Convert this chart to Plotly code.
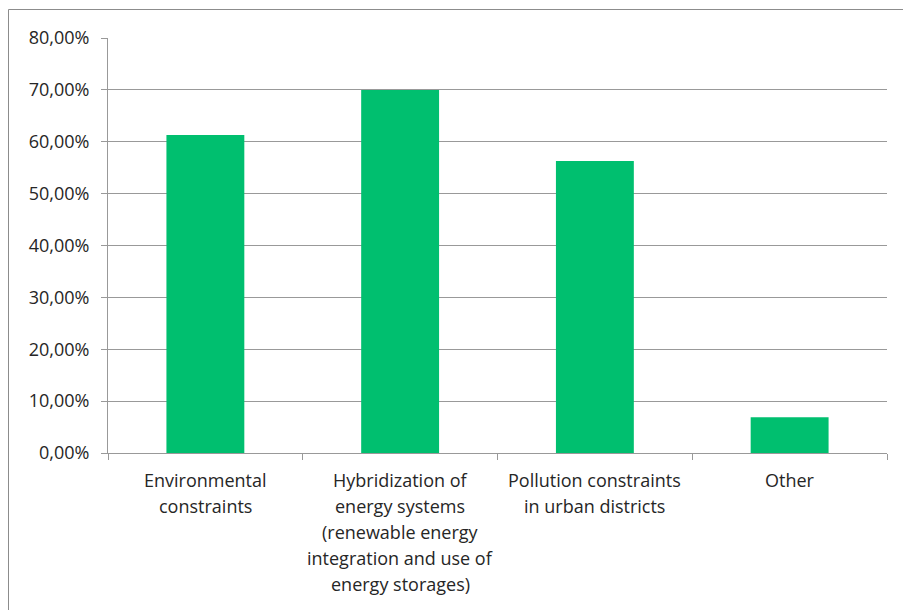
import plotly.graph_objects as go

categories = [
    "Environmental<br>constraints",
    "Hybridization of<br>energy systems<br>(renewable energy<br>integration and use of<br>energy storages)",
    "Pollution constraints<br>in urban districts",
    "Other",
]
shares = [61.3, 70.0, 56.3, 6.9]
y_ticks = [0, 10, 20, 30, 40, 50, 60, 70, 80]
y_tick_labels = ["0,00%", "10,00%", "20,00%", "30,00%", "40,00%",
                 "50,00%", "60,00%", "70,00%", "80,00%"]

font_family = "'Open Sans', sans-serif"
text_color = "#262626"
font_size = 18

fig = go.Figure(
    go.Bar(
        x=list(range(len(categories))),
        y=shares,
        marker=dict(color="#00BF6F", line=dict(width=0)),
        hoverinfo="y",
    )
)

# category labels, one annotation per text line for wider line spacing
line_step = 26
for i, label in enumerate(categories):
    for j, line in enumerate(label.split("<br>")):
        fig.add_annotation(
            x=i, y=0, xref="x", yref="y",
            text=line, showarrow=False,
            yshift=-(27 + j * line_step), yanchor="middle",
            font=dict(family=font_family, size=font_size, color=text_color),
        )

fig.update_layout(
    width=903, height=610,
    margin=dict(l=108, r=16, t=38, b=157),
    paper_bgcolor="white", plot_bgcolor="white",
    bargap=0.6,
    showlegend=False,
    font=dict(family=font_family, size=font_size, color=text_color),
)

fig.update_xaxes(
    range=[-0.5, len(categories) - 0.5],
    tickmode="array",
    tickvals=[-0.5 + k for k in range(len(categories) + 1)],
    showticklabels=False,
    ticks="outside", ticklen=6, tickcolor="#999999", tickwidth=1,
    showline=True, linecolor="#999999", linewidth=1,
    showgrid=False, zeroline=False,
)
fig.update_yaxes(
    range=[0, 80],
    tickmode="array", tickvals=y_ticks, ticktext=y_tick_labels,
    ticks="outside", ticklen=6, tickcolor="#999999", tickwidth=1,
    ticklabelstandoff=8,
    showline=True, linecolor="#999999", linewidth=1,
    showgrid=True, gridcolor="#999999", gridwidth=1,
    zeroline=False,
    tickfont=dict(family=font_family, size=font_size, color=text_color),
)

# outer chart frame
fig.add_shape(
    type="rect", xref="paper", yref="paper",
    x0=(8.5 - 108) / 779, x1=(910 - 108) / 779,
    y0=(453 - 620) / 415, y1=(453 - 9.5) / 415,
    line=dict(color="#8c8c8c", width=1), fillcolor="rgba(0,0,0,0)",
    layer="below",
)

fig.write_html("out.html")
